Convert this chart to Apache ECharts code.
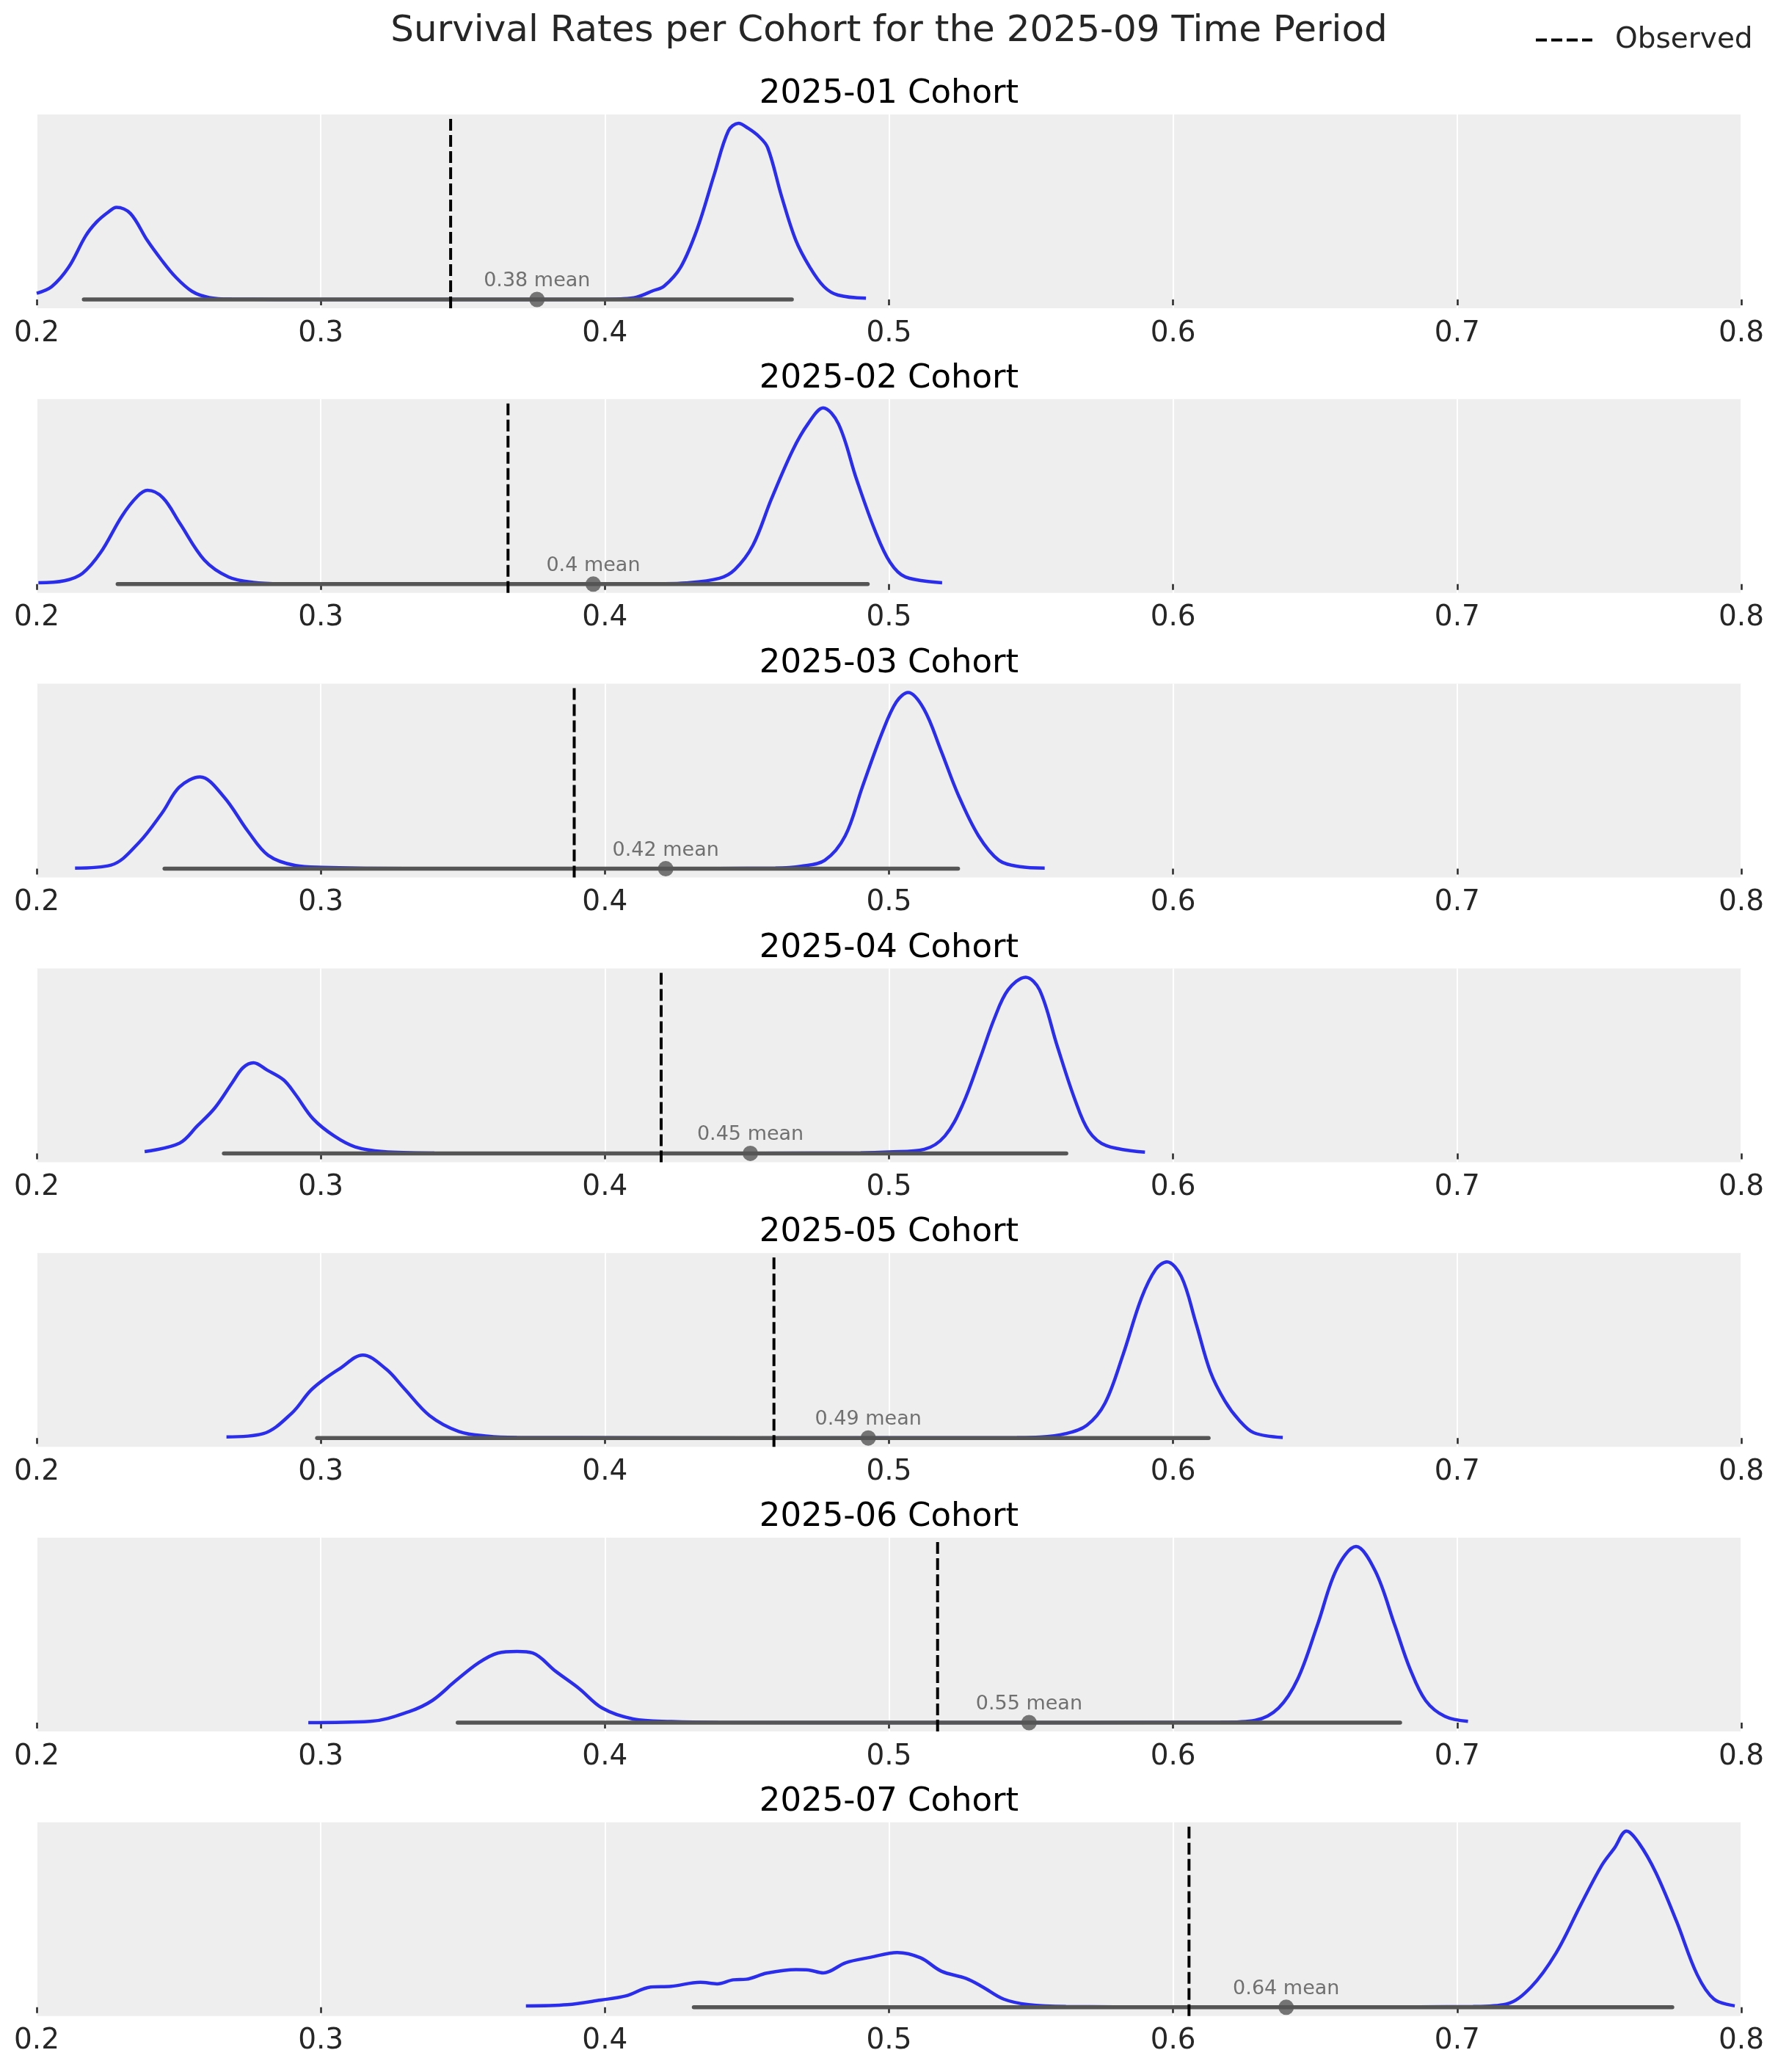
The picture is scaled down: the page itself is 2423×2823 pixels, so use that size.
<!DOCTYPE html>
<html>
<head>
<meta charset="utf-8">
<script src="https://cdn.jsdelivr.net/npm/echarts@6/dist/echarts.min.js"></script>
<style>
html,body{margin:0;padding:0;background:#fff;}
#chart{width:2423px;height:2823px;}
</style>
</head>
<body>
<div id="chart"></div>
<script>
// ---------- data ----------
const cohorts = ['2025-01', '2025-02', '2025-03', '2025-04', '2025-05', '2025-06', '2025-07'];
const xTicks = [0.2, 0.3, 0.4, 0.5, 0.6, 0.7, 0.8];

// KDE curves, [value, relative density] (density scaled so each panel's peak = 1)
const kde_2025_01 = [[0.2,0.035],[0.2053,0.073],[0.2113,0.184],[0.2172,0.36],[0.2211,0.44],[0.2251,0.495],[0.2281,0.523],[0.233,0.488],[0.2389,0.336],[0.2439,0.225],[0.2488,0.129],[0.2547,0.046],[0.2607,0.011],[0.2686,0.002],[0.30,0],[0.35,0],[0.40,0.001],[0.405,0.003],[0.4111,0.013],[0.417,0.05],[0.4208,0.075],[0.4267,0.184],[0.4326,0.405],[0.4385,0.71],[0.4435,0.958],[0.447,1.0],[0.4504,0.972],[0.4543,0.924],[0.4573,0.862],[0.4622,0.585],[0.4672,0.336],[0.4721,0.184],[0.4771,0.073],[0.482,0.025],[0.4919,0.007]];
const kde_2025_02 = [[0.2006,0.008],[0.2097,0.019],[0.2161,0.061],[0.2225,0.179],[0.23,0.386],[0.2354,0.497],[0.239,0.532],[0.2444,0.49],[0.2504,0.345],[0.259,0.137],[0.2676,0.04],[0.2762,0.01],[0.2869,0.002],[0.32,0],[0.38,0],[0.42,0.002],[0.4285,0.006],[0.4403,0.033],[0.4457,0.082],[0.4521,0.22],[0.4586,0.483],[0.4661,0.76],[0.4715,0.91],[0.4768,1.0],[0.4822,0.91],[0.4886,0.594],[0.4951,0.303],[0.5004,0.123],[0.5058,0.04],[0.5187,0.008]];
const kde_2025_03 = [[0.2135,0.004],[0.2262,0.021],[0.2358,0.145],[0.2442,0.318],[0.2502,0.463],[0.2575,0.521],[0.2659,0.408],[0.2743,0.214],[0.2815,0.076],[0.2911,0.018],[0.3007,0.008],[0.33,0.001],[0.40,0],[0.46,0.004],[0.469,0.014],[0.4774,0.048],[0.4846,0.187],[0.4906,0.463],[0.4978,0.781],[0.5026,0.947],[0.5067,1.0],[0.5123,0.906],[0.5183,0.671],[0.5243,0.422],[0.5315,0.187],[0.5387,0.048],[0.546,0.012],[0.5548,0.004]];
const kde_2025_04 = [[0.238,0.01],[0.2503,0.058],[0.2565,0.155],[0.2627,0.258],[0.2689,0.403],[0.2726,0.486],[0.2763,0.514],[0.2812,0.472],[0.2869,0.417],[0.2911,0.334],[0.2973,0.196],[0.3047,0.099],[0.3121,0.037],[0.322,0.01],[0.34,0.002],[0.42,0],[0.49,0.003],[0.5,0.008],[0.5124,0.023],[0.5197,0.099],[0.526,0.279],[0.5321,0.541],[0.537,0.762],[0.5419,0.928],[0.5481,1.0],[0.553,0.928],[0.5592,0.61],[0.5654,0.307],[0.5703,0.127],[0.5765,0.044],[0.5901,0.007]];
const kde_2025_05 = [[0.2668,0.006],[0.2796,0.024],[0.2898,0.141],[0.2962,0.266],[0.3013,0.335],[0.3064,0.391],[0.3148,0.471],[0.323,0.391],[0.3294,0.28],[0.3383,0.127],[0.3486,0.037],[0.3588,0.01],[0.369,0.003],[0.45,0],[0.545,0.002],[0.553,0.005],[0.562,0.024],[0.5696,0.072],[0.576,0.197],[0.5824,0.474],[0.5888,0.792],[0.5939,0.958],[0.5978,1.0],[0.6029,0.917],[0.608,0.654],[0.6131,0.377],[0.6182,0.211],[0.6233,0.1],[0.6284,0.03],[0.6386,0.003]];
const kde_2025_06 = [[0.2956,0],[0.3174,0.007],[0.331,0.062],[0.3392,0.125],[0.3473,0.235],[0.3555,0.339],[0.3623,0.395],[0.3691,0.404],[0.3746,0.395],[0.3827,0.291],[0.3909,0.194],[0.399,0.083],[0.4099,0.021],[0.4235,0.006],[0.4399,0.001],[0.52,0],[0.6167,0.002],[0.629,0.014],[0.6371,0.083],[0.6439,0.249],[0.6508,0.554],[0.6576,0.873],[0.6644,1.0],[0.6712,0.859],[0.678,0.554],[0.6834,0.305],[0.6889,0.125],[0.6957,0.035],[0.7038,0.007]];
const kde_2025_07 = [[0.3722,0.008],[0.3868,0.015],[0.3985,0.041],[0.4073,0.064],[0.4161,0.115],[0.4234,0.119],[0.4336,0.142],[0.4395,0.133],[0.4453,0.156],[0.4497,0.159],[0.457,0.194],[0.4673,0.214],[0.4716,0.212],[0.4769,0.195],[0.4848,0.253],[0.4936,0.284],[0.5029,0.311],[0.5111,0.281],[0.5184,0.205],[0.5272,0.163],[0.533,0.115],[0.5404,0.046],[0.5491,0.015],[0.5623,0.004],[0.63,0],[0.7056,0.004],[0.7173,0.018],[0.726,0.115],[0.7348,0.308],[0.7436,0.585],[0.7509,0.806],[0.7553,0.903],[0.7596,1.0],[0.764,0.931],[0.7699,0.765],[0.7772,0.488],[0.7845,0.184],[0.7904,0.046],[0.7977,0.008]];

const hdiLow  = [0.2166, 0.2285, 0.2450, 0.2659, 0.2987, 0.3482, 0.4313];
const hdiHigh = [0.4658, 0.4925, 0.5243, 0.5624, 0.6125, 0.6799, 0.7757];
const means   = [0.3761, 0.3959, 0.4214, 0.4512, 0.4927, 0.5493, 0.6398];
const meanLabels = ['0.38 mean', '0.4 mean', '0.42 mean', '0.45 mean', '0.49 mean', '0.55 mean', '0.64 mean'];
const observed = [0.3457, 0.3659, 0.3892, 0.4198, 0.4595, 0.5171, 0.6056];

// ---------- build chart ----------
const kdes = [kde_2025_01, kde_2025_02, kde_2025_03, kde_2025_04, kde_2025_05, kde_2025_06, kde_2025_07];
const FONT = 'DejaVu Sans';
const GRID_TOP0 = 156, PITCH = 387.8, GRID_H = 264, GRID_L = 50, GRID_W = 2323;
const Y_MIN = -0.05, Y_MAX = 1.05;
// legend glyph: four dashes, like a matplotlib '--' line sample
const DASH_ICON = 'path://M0 0h15v4H0z M21 0h15v4H21z M42 0h15v4H42z M63 0h14v4H63z';

const grids = [], xAxes = [], yAxes = [], series = [], titles = [];

titles.push({
  text: 'Survival Rates per Cohort for the 2025-09 Time Period',
  left: 'center', top: 18, padding: 0,
  textStyle: {fontFamily: FONT, fontSize: 50, fontWeight: 'normal', color: '#262626'}
});

cohorts.forEach((c, i) => {
  const top = GRID_TOP0 + i * PITCH;
  grids.push({left: GRID_L, top: top, width: GRID_W, height: GRID_H,
    show: true, backgroundColor: '#eeeeee', borderWidth: 0, containLabel: false});
  titles.push({
    text: c + ' Cohort', left: 'center', top: top - 50, padding: 0,
    textStyle: {fontFamily: FONT, fontSize: 45, fontWeight: 'normal', color: '#000000'}
  });
  xAxes.push({
    type: 'value', gridIndex: i, min: xTicks[0], max: xTicks[xTicks.length - 1], interval: 0.1,
    axisLine: {show: false},
    axisTick: {show: true, length: 8, lineStyle: {color: '#262626', width: 2.5}},
    axisLabel: {show: true, margin: 15, fontFamily: FONT, fontSize: 39, color: '#262626',
      showMinLabel: true, showMaxLabel: true,
      formatter: v => (Math.round(v * 10) / 10).toFixed(1)},
    splitLine: {show: true, lineStyle: {color: '#ffffff', width: 2}}
  });
  yAxes.push({
    type: 'value', gridIndex: i, min: Y_MIN, max: Y_MAX, show: false,
    splitLine: {show: false}
  });
  series.push({
    type: 'line', xAxisIndex: i, yAxisIndex: i, data: kdes[i],
    smooth: 0.35, symbol: 'none', clip: true, z: 2,
    lineStyle: {color: '#2a2eec', width: 4.5}, itemStyle: {color: '#2a2eec'}, silent: true
  });
  series.push({
    type: 'line', xAxisIndex: i, yAxisIndex: i,
    data: [[hdiLow[i], 0], [hdiHigh[i], 0]],
    symbol: 'none', z: 3, silent: true,
    lineStyle: {color: '#555555', width: 5.5, cap: 'round'}, itemStyle: {color: '#555555'}
  });
  series.push({
    name: i === 0 ? 'Observed' : 'Observed ' + c,
    type: 'line', xAxisIndex: i, yAxisIndex: i,
    data: [[observed[i], Y_MIN], [observed[i], Y_MAX]],
    symbol: 'none', z: 4, silent: true,
    itemStyle: {color: '#000000'},
    lineStyle: {color: '#000000', width: 4, type: [16, 6]}
  });
  series.push({
    type: 'scatter', xAxisIndex: i, yAxisIndex: i,
    data: [[means[i], 0]], symbol: 'circle', symbolSize: 21, z: 5, silent: true,
    itemStyle: {color: '#555555'},
    label: {show: true, position: 'top', distance: 1, formatter: meanLabels[i],
      fontFamily: FONT, fontSize: 27, color: '#505050'}
  });
});

const chart = echarts.init(document.getElementById('chart'), null, {renderer: 'canvas', width: 2423, height: 2823});
chart.setOption({
  animation: false,
  backgroundColor: '#ffffff',
  title: titles,
  legend: {
    data: [{name: 'Observed', icon: DASH_ICON}],
    left: 2093, top: 35, padding: 0, selectedMode: false,
    itemWidth: 77, itemHeight: 4, symbolKeepAspect: false,
    itemStyle: {color: '#000000', borderWidth: 0},
    textStyle: {fontFamily: FONT, fontSize: 39, color: '#262626', padding: [0, 0, 0, 26]}
  },
  grid: grids, xAxis: xAxes, yAxis: yAxes, series: series
});
</script>
</body>
</html>
